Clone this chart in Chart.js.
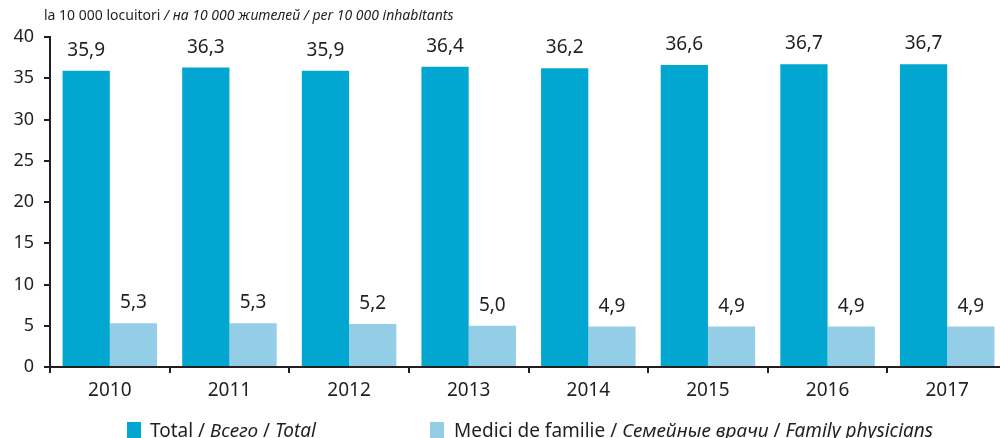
<!DOCTYPE html>
<html>
<head>
<meta charset="utf-8">
<script src="https://cdn.jsdelivr.net/npm/chart.js@4/dist/chart.umd.min.js"></script>
<style>
  html, body { margin: 0; padding: 0; background: #fff; overflow: hidden; }
  #wrap { width: 1007px; height: 438px; }
</style>
</head>
<body>
<div id="wrap"><canvas id="doctorsChart"></canvas></div>
<script>
// Data
const years = ['2010', '2011', '2012', '2013', '2014', '2015', '2016', '2017'];
const totalValues = [35.9, 36.3, 35.9, 36.4, 36.2, 36.6, 36.7, 36.7];
const familyValues = [5.3, 5.3, 5.2, 5.0, 4.9, 4.9, 4.9, 4.9];
const yTicks = [0, 5, 10, 15, 20, 25, 30, 35, 40];

const FONT = '"Noto Sans", sans-serif';
const TEXT = '#231f20';
const DARK = '#02a7d1';
const LIGHT = '#93cde6';

// draw a run of [text, italic] pieces starting at x
function drawPieces(ctx, pieces, x, y, size) {
    pieces.forEach(p => {
        ctx.font = (p[1] ? 'italic ' : '') + size + 'px ' + FONT;
        ctx.fillText(p[0], x, y);
        x += ctx.measureText(p[0]).width;
    });
    return x;
}

const extrasPlugin = {
    id: 'extras',
    afterDatasetsDraw(chart) {
        const ctx = chart.ctx;
        ctx.save();
        ctx.fillStyle = TEXT;
        ctx.textBaseline = 'alphabetic';

        // value labels above bars
        ctx.font = '19px ' + FONT;
        ctx.textAlign = 'center';
        chart.data.datasets.forEach((ds, i) => {
            chart.getDatasetMeta(i).data.forEach((bar, j) => {
                const txt = ds.data[j].toFixed(1).replace('.', ',');
                ctx.fillText(txt, bar.x, bar.y - 15);
            });
        });

        // unit title
        ctx.textAlign = 'left';
        drawPieces(ctx, [
            ['la 10 000 locuitori ', false],
            ['/ на 10 000 жителей / per 10 000 inhabitants', true]
        ], 44, 20, 14);

        // legend
        ctx.fillStyle = DARK;
        ctx.fillRect(127, 422, 14, 16);
        ctx.fillStyle = LIGHT;
        ctx.fillRect(430, 422, 14, 16);
        ctx.fillStyle = TEXT;
        drawPieces(ctx, [
            ['Total / ', false], ['Всего', true], [' / ', false], ['Total', true]
        ], 150, 437, 19);
        drawPieces(ctx, [
            ['Medici de familie / ', false], ['Семейные врачи', true], [' / ', false], ['Family physicians', true]
        ], 454, 437, 19);
        ctx.restore();
    }
};

const ctx = document.getElementById('doctorsChart').getContext('2d');
const doctorsChart = new Chart(ctx, {
    type: 'bar',
    data: {
        labels: years,
        datasets: [{
            label: 'Total / Всего / Total',
            data: totalValues,
            backgroundColor: DARK,
            borderWidth: 0
        }, {
            label: 'Medici de familie / Семейные врачи / Family physicians',
            data: familyValues,
            backgroundColor: LIGHT,
            borderWidth: 0
        }]
    },
    options: {
        responsive: true,
        maintainAspectRatio: false,
        animation: false,
        layout: { padding: { top: 37, right: 0, bottom: 0, left: 0 } },
        datasets: {
            bar: { categoryPercentage: 0.79, barPercentage: 1.0 }
        },
        plugins: {
            legend: { display: false },
            tooltip: { enabled: false }
        },
        scales: {
            x: {
                grid: { offset: true, drawOnChartArea: false, drawTicks: true, tickLength: 6, color: TEXT, lineWidth: 2 },
                border: { color: TEXT, width: 2 },
                ticks: { color: TEXT, font: { family: FONT, size: 19 }, padding: 6, maxRotation: 0 },
                afterFit(scale) { scale.height = 71; }
            },
            y: {
                min: 0,
                max: 40,
                afterBuildTicks(scale) { scale.ticks = yTicks.map(v => ({ value: v })); },
                grid: { drawOnChartArea: false, drawTicks: true, tickLength: 6, color: TEXT, lineWidth: 2 },
                border: { color: TEXT, width: 2 },
                ticks: { color: TEXT, font: { family: FONT, size: 18 }, padding: 10 },
                afterFit(scale) { scale.width = 50; }
            }
        }
    },
    plugins: [extrasPlugin]
});
</script>
</body>
</html>
